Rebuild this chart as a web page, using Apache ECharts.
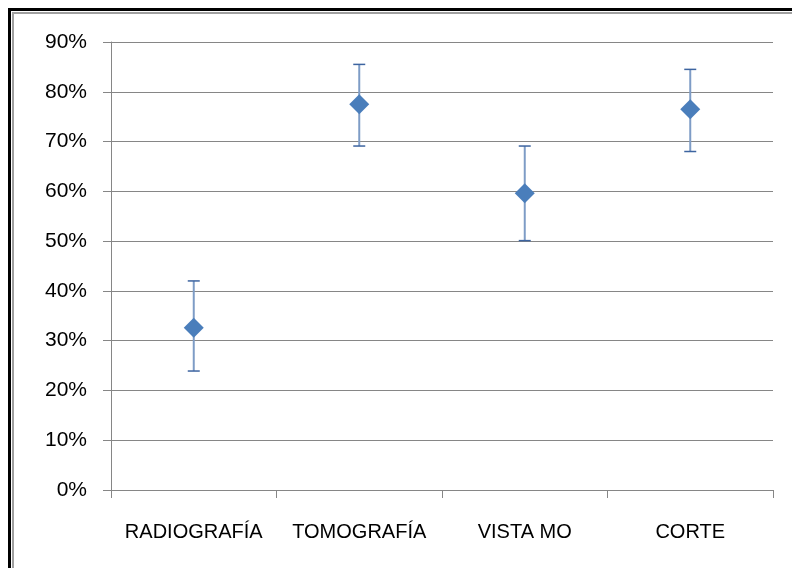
<!DOCTYPE html>
<html>
<head>
<meta charset="utf-8">
<script src="https://cdn.jsdelivr.net/npm/echarts@6/dist/echarts.min.js"></script>
<style>
html,body{margin:0;padding:0;background:#fff;}
#chart{width:792px;height:568px;}
</style>
</head>
<body>
<div id="chart"></div>
<script>
const categories = ['RADIOGRAFÍA', 'TOMOGRAFÍA', 'VISTA MO', 'CORTE'];
const means = [0.326, 0.775, 0.596, 0.765];
const upper = [0.420, 0.855, 0.691, 0.845];
const lower = [0.239, 0.691, 0.501, 0.680];
const yTicks = [0, 0.1, 0.2, 0.3, 0.4, 0.5, 0.6, 0.7, 0.8, 0.9];

const chart = echarts.init(document.getElementById('chart'));
const errData = categories.map((c, i) => [i, lower[i], upper[i]]);

chart.setOption({
  animation: false,
  backgroundColor: '#ffffff',
  graphic: [
    { type: 'rect', shape: { x: 8, y: 8, width: 800, height: 3 }, style: { fill: '#000' } },
    { type: 'rect', shape: { x: 8, y: 8, width: 3, height: 600 }, style: { fill: '#000' } },
    { type: 'rect', shape: { x: 12, y: 12, width: 800, height: 2 }, style: { fill: '#a0a0a0' } },
    { type: 'rect', shape: { x: 12, y: 12, width: 2, height: 600 }, style: { fill: '#a0a0a0' } }
  ],
  grid: { left: 111, right: 19, top: 42, bottom: 78, containLabel: false },
  xAxis: {
    type: 'category',
    data: categories,
    boundaryGap: true,
    axisLine: { show: true, lineStyle: { color: '#868686', width: 1 } },
    axisTick: { show: true, alignWithLabel: false, length: 8, lineStyle: { color: '#868686' } },
    axisLabel: { color: '#000', fontFamily: 'Liberation Sans', fontSize: 20, margin: 32, interval: 0 },
    splitLine: { show: false }
  },
  yAxis: {
    type: 'value',
    min: 0, max: 0.9, interval: 0.1,
    axisLine: { show: true, lineStyle: { color: '#868686', width: 1 } },
    axisTick: { show: true, length: 8, lineStyle: { color: '#868686' } },
    axisLabel: {
      color: '#000', fontFamily: 'Liberation Sans', fontSize: 21, margin: 24,
      formatter: v => {
        const t = yTicks.find(x => Math.abs(x - v) < 1e-9);
        return Math.round((t !== undefined ? t : v) * 100) + '%';
      }
    },
    splitLine: { show: true, lineStyle: { color: '#868686', width: 1 } }
  },
  series: [
    {
      type: 'custom',
      data: errData,
      z: 2,
      renderItem: function (params, api) {
        const x = api.value(0);
        const lo = api.coord([x, api.value(1)]);
        const hi = api.coord([x, api.value(2)]);
        const half = 6;
        return {
          type: 'group',
          children: [
            { type: 'line', shape: { x1: lo[0], y1: lo[1], x2: hi[0], y2: hi[1] },
              style: { stroke: '#7e9cc6', lineWidth: 2 } },
            { type: 'line', shape: { x1: hi[0] - half, y1: hi[1], x2: hi[0] + half, y2: hi[1] },
              style: { stroke: '#3d64a0', lineWidth: 1.5 } },
            { type: 'line', shape: { x1: lo[0] - half, y1: lo[1], x2: lo[0] + half, y2: lo[1] },
              style: { stroke: '#3d64a0', lineWidth: 1.5 } }
          ]
        };
      }
    },
    {
      type: 'scatter',
      data: means,
      symbol: 'diamond',
      symbolSize: [20, 20],
      z: 3,
      itemStyle: { color: '#4a7ebb', opacity: 1 }
    }
  ]
});
</script>
</body>
</html>
